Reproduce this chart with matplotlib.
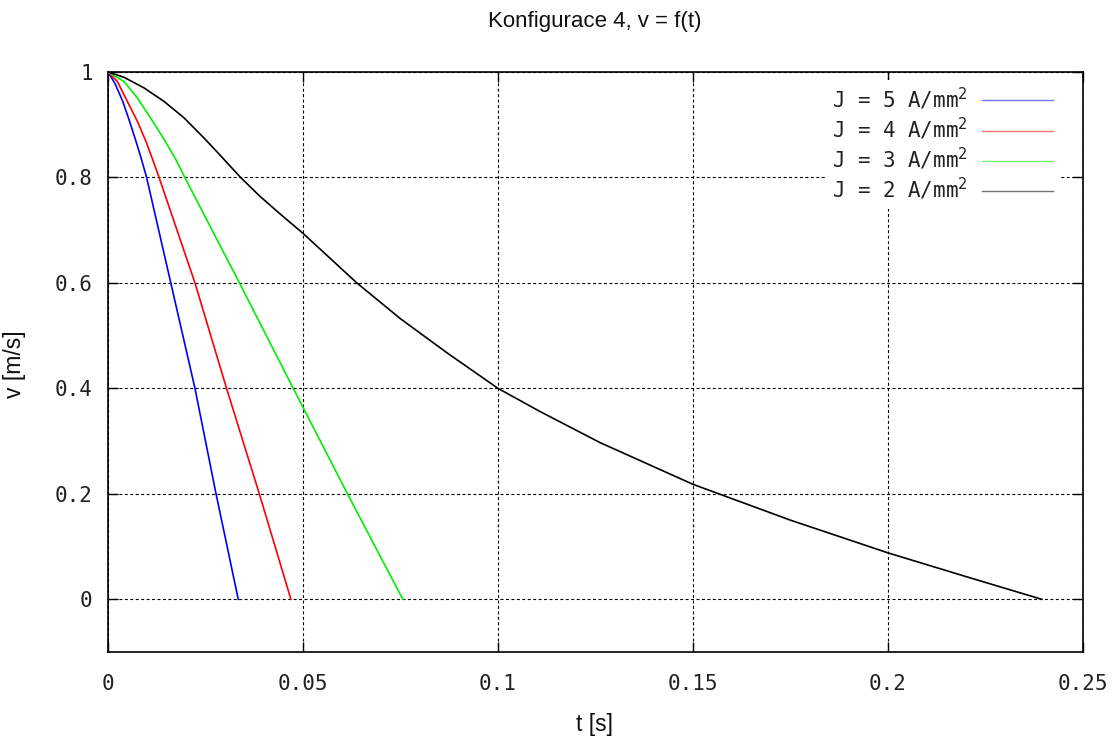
import matplotlib
matplotlib.use("Agg")
import matplotlib.pyplot as plt
from matplotlib.ticker import FixedLocator, FuncFormatter

# ---- data ----
t_j5 = [0.0, 0.0018, 0.0038, 0.0056, 0.0072, 0.0086, 0.0099,
        0.0161, 0.0223, 0.0277, 0.0334]
v_j5 = [1.0, 0.978, 0.944, 0.905, 0.868, 0.834, 0.800,
        0.60, 0.40, 0.20, 0.0]

t_j4 = [0.0, 0.0024, 0.00496, 0.0075, 0.0097, 0.0116, 0.0131,
        0.0223, 0.0304, 0.0388, 0.0469]
v_j4 = [1.0, 0.982, 0.944, 0.907, 0.869, 0.831, 0.800,
        0.60, 0.40, 0.20, 0.0]

t_j3 = [0.0, 0.0041, 0.0075, 0.0109, 0.0144, 0.0174, 0.0197,
        0.0337, 0.0475, 0.0614, 0.0756]
v_j3 = [1.0, 0.982, 0.951, 0.913, 0.872, 0.834, 0.800,
        0.60, 0.40, 0.20, 0.0]

t_j2 = [0.0, 0.0041, 0.0092, 0.0144, 0.0195, 0.0246, 0.0289, 0.0340,
        0.0390, 0.0441, 0.0500, 0.0638, 0.0750, 0.0870, 0.1000, 0.1108,
        0.1262, 0.1500, 0.1750, 0.2000, 0.2200, 0.2394]
v_j2 = [1.0, 0.990, 0.970, 0.944, 0.913, 0.875, 0.841, 0.800,
        0.764, 0.731, 0.694, 0.600, 0.532, 0.467, 0.400, 0.356,
        0.297, 0.218, 0.150, 0.088, 0.043, 0.0]

labels = ["J = 5 A/mm$^2$", "J = 4 A/mm$^2$", "J = 3 A/mm$^2$", "J = 2 A/mm$^2$"]
colors = ["#0000ff", "#ff0000", "#00ee00", "#000000"]

x_ticks = [0, 0.05, 0.1, 0.15, 0.2, 0.25]
y_ticks = [0, 0.2, 0.4, 0.6, 0.8, 1.0]

title = "Konfigurace 4, v = f(t)"
xlabel = "t [s]"
ylabel = "v [m/s]"

# ---- figure ----
plt.rcParams["mathtext.fontset"] = "dejavusans"
W, H = 1113, 742
fig = plt.figure(figsize=(W / 100, H / 100), dpi=100)
ax = fig.add_axes([108 / W, 1 - 652 / H, (1083 - 108) / W, (652 - 72) / H])

series = [(t_j5, v_j5), (t_j4, v_j4), (t_j3, v_j3), (t_j2, v_j2)]
for (t, v), lab, c in zip(series, labels, colors):
    ax.plot(t, v, color=c, lw=1.2, label=lab, zorder=3,
            solid_joinstyle="round")

ax.set_xlim(0, 0.25)
ax.set_ylim(-0.1, 1.0)
ax.xaxis.set_major_locator(FixedLocator(x_ticks))
ax.yaxis.set_major_locator(FixedLocator(y_ticks))
fmt = FuncFormatter(lambda val, pos: "%g" % round(val, 6))
ax.xaxis.set_major_formatter(fmt)
ax.yaxis.set_major_formatter(fmt)

mono = "DejaVu Sans Mono"
ax.tick_params(axis="both", which="major", direction="in", length=7, width=1,
               top=True, right=True, labelsize=15, colors="black")
ax.tick_params(axis="x", pad=16)
ax.tick_params(axis="y", pad=11)
for lbl in ax.get_xticklabels() + ax.get_yticklabels():
    lbl.set_fontfamily(mono)
    lbl.set_color("#222222")

ax.grid(True, color="black", lw=0.8, linestyle=(0, (2.7, 2.2)), zorder=1)
for sp in ax.spines.values():
    sp.set_linewidth(1.2)
    sp.set_color("black")

fig.text(595 / W, 1 - 22 / H, title, ha="center", va="center",
         fontsize=16, family="Liberation Sans", color="#111111")
fig.text(595 / W, 1 - 724 / H, xlabel, ha="center", va="center",
         fontsize=16.5, family="Liberation Sans", color="#111111")
fig.text(15 / W, 1 - 364 / H, ylabel, ha="center", va="center", rotation=90,
         fontsize=16.5, family="Liberation Sans", color="#111111")

leg = ax.legend(loc="upper right", bbox_to_anchor=(0.986, 1.005), frameon=True,
                markerfirst=False, handlelength=3.4, handletextpad=0.7,
                labelspacing=0.19, borderpad=0.3,
                prop={"family": mono, "size": 15})
leg.get_frame().set_facecolor("white")
leg.get_frame().set_edgecolor("none")
leg.get_frame().set_alpha(1.0)
leg.set_zorder(5)
for h in leg.get_lines():
    h.set_linewidth(1.0)
    h.set_alpha(0.55)
for txt in leg.get_texts():
    txt.set_color("#222222")

fig.savefig("out.png", dpi=100, facecolor="white")
